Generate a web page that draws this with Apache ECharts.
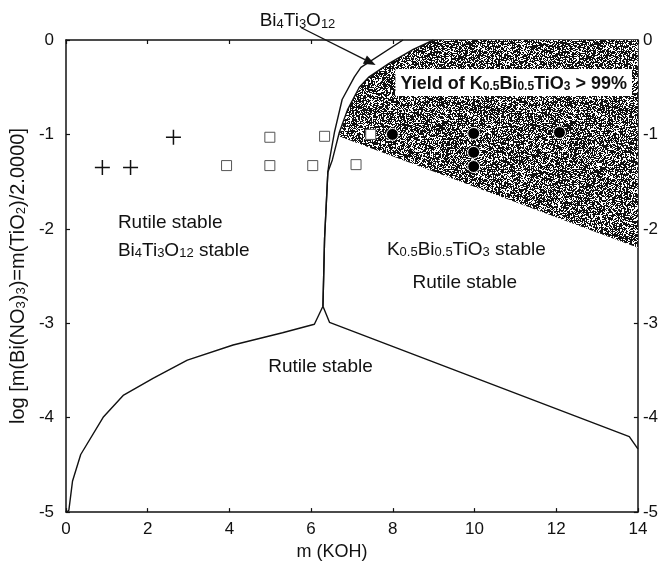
<!DOCTYPE html>
<html>
<head>
<meta charset="utf-8">
<script src="https://cdn.jsdelivr.net/npm/echarts@6/dist/echarts.min.js"></script>
<style>
  html, body { margin: 0; padding: 0; background: #fff; }
  #chart { width: 661px; height: 566px; }
</style>
</head>
<body>
<div id="chart"></div>
<script>
const FONT = 'Liberation Sans, Arial, Helvetica, sans-serif';

// axis ticks
const X_TICKS = [0, 2, 4, 6, 8, 10, 12, 14];
const Y_TICKS = [0, -1, -2, -3, -4, -5];

// lower boundary (rutile stable below)
const lowX = [0.02, 0.07, 0.16, 0.36, 0.92, 1.41, 2.14, 2.97, 4.09, 5.30, 6.08, 6.29, 6.45, 13.79, 14.0];
const lowY = [-5.0, -4.98, -4.67, -4.39, -3.99, -3.76, -3.58, -3.39, -3.23, -3.10, -3.01, -2.82, -2.99, -4.20, -4.33];

// Bi4Ti3O12 band, outer (left) boundary
const outerX = [6.29, 6.33, 6.41, 6.45, 6.57, 6.76, 7.06, 7.22, 8.25];
const outerY = [-2.82, -2.10, -1.40, -1.27, -0.98, -0.63, -0.39, -0.29, 0.0];

// Bi4Ti3O12 band, inner (right) boundary
const innerX = [6.29, 6.33, 6.41, 6.52, 6.69, 6.89, 7.18, 7.42, 7.90, 8.50, 9.00];
const innerY = [-2.82, -2.10, -1.40, -1.27, -0.98, -0.74, -0.50, -0.39, -0.25, -0.10, 0.0];

// shaded region: yield of K0.5Bi0.5TiO3 > 99%
const shadeX = [6.68, 6.89, 7.18, 7.42, 7.90, 8.50, 9.00, 14.0, 14.0];
const shadeY = [-1.02, -0.74, -0.50, -0.39, -0.25, -0.10, 0.0, 0.0, -2.20];

// experiments
const plusPts = [[0.89, -1.35], [1.58, -1.35], [2.63, -1.03]];
const squarePts = [[3.93, -1.33], [4.99, -1.03], [4.99, -1.33], [6.04, -1.33], [6.33, -1.02], [7.10, -1.32], [7.46, -1.00]];
const circlePts = [[7.99, -1.00], [9.98, -0.99], [9.98, -1.19], [9.98, -1.34], [12.08, -0.98]];

// arrow to the Bi4Ti3O12 band
const arrowFrom = [5.76, 0.13];
const arrowTo = [7.58, -0.265];

// text anchors
const noteText = [
  'Rutile stable',
  'Bi{s|4}Ti{s|3}O{s|12} stable',
  'K{s|0.5}Bi{s|0.5}TiO{s|3} stable',
  'Rutile stable',
  'Rutile stable',
  'Bi{s|4}Ti{s|3}O{s|12}'
];
const noteX = [1.27, 1.27, 9.80, 9.76, 6.23, 4.74];
const noteY = [-1.92, -2.22, -2.21, -2.56, -3.45, 0.21];
const noteAlign = ['left', 'left', 'center', 'center', 'center', 'left'];

const yieldText = '{b|Yield of K}{bs|0.5}{b|Bi}{bs|0.5}{b|TiO}{bs|3}{b| > 99%}';
const yieldPos = [10.96, -0.45];

function makeStipple() {
  const c = document.createElement('canvas');
  c.width = 128; c.height = 128;
  const g = c.getContext('2d');
  g.fillStyle = '#fff';
  g.fillRect(0, 0, 128, 128);
  g.fillStyle = '#111';
  let s = 20231;
  for (let y = 0; y < 128; y++) {
    for (let x = 0; x < 128; x++) {
      s = (s * 1103515245 + 12345) & 0x7fffffff;
      if (s / 0x7fffffff < 0.62) g.fillRect(x, y, 1, 1);
    }
  }
  return c;
}
const stipple = makeStipple();

function zip(xs, ys) {
  return xs.map((x, i) => [x, ys[i]]);
}

const richText = {
  n: { fontFamily: FONT, fontSize: 19, color: '#111', verticalAlign: 'bottom', lineHeight: 21 },
  s: { fontFamily: FONT, fontSize: 13, color: '#111', verticalAlign: 'bottom', lineHeight: 15 },
  b: { fontFamily: FONT, fontSize: 18, fontWeight: 'bold', color: '#111', verticalAlign: 'bottom', lineHeight: 21 },
  bs: { fontFamily: FONT, fontSize: 12, fontWeight: 'bold', color: '#111', verticalAlign: 'bottom', lineHeight: 14 }
};

function wrapPlain(t) {
  // put plain runs into the n style so that they share the baseline with subscripts
  return t.replace(/(^|\})([^{}]+)(\{|$)/g, (m, a, body, b) => a + '{n|' + body + '}' + b);
}

const lineStyle = { color: '#111', width: 1.4 };
const axisCommon = {
  type: 'value',
  axisLine: { show: true, onZero: false, lineStyle: { color: '#111', width: 1.5 } },
  axisTick: { show: true, inside: true, length: 4, lineStyle: { color: '#111', width: 1.2 } },
  splitLine: { show: false }
};

const chart = echarts.init(document.getElementById('chart'), null, { renderer: 'canvas' });

chart.setOption({
  animation: false,
  backgroundColor: '#fff',
  grid: { left: 65, right: 20, top: 40, bottom: 50 },
  xAxis: [
    Object.assign({}, axisCommon, {
      position: 'bottom', min: X_TICKS[0], max: X_TICKS[X_TICKS.length - 1], interval: 2,
      axisLabel: { fontFamily: FONT, fontSize: 17, color: '#111', margin: 9 },
      name: 'm (KOH)', nameLocation: 'middle', nameGap: 30,
      nameTextStyle: { fontFamily: FONT, fontSize: 18, color: '#111', padding: [0, 40, 0, 0] }
    }),
    Object.assign({}, axisCommon, {
      position: 'top', min: X_TICKS[0], max: X_TICKS[X_TICKS.length - 1], interval: 2,
      axisLabel: { show: false }
    })
  ],
  yAxis: [
    Object.assign({}, axisCommon, {
      position: 'left', min: Y_TICKS[Y_TICKS.length - 1], max: Y_TICKS[0], interval: 1,
      axisLabel: { fontFamily: FONT, fontSize: 17, color: '#111', margin: 12 },
      name: '{n|log [m(Bi(NO}{s|3}{n|)}{s|3}{n|)=m(TiO}{s|2}{n|)/2.0000]}',
      nameLocation: 'middle', nameGap: 36, nameRotate: 90,
      nameTextStyle: { fontFamily: FONT, fontSize: 20, color: '#111', rich: {
        n: { fontFamily: FONT, fontSize: 20, color: '#111', verticalAlign: 'bottom', lineHeight: 22 },
        s: { fontFamily: FONT, fontSize: 13, color: '#111', verticalAlign: 'bottom', lineHeight: 14 }
      } }
    }),
    Object.assign({}, axisCommon, {
      position: 'right', min: Y_TICKS[Y_TICKS.length - 1], max: Y_TICKS[0], interval: 1,
      axisLabel: { fontFamily: FONT, fontSize: 17, color: '#111', margin: 5 }
    })
  ],
  series: [
    {
      type: 'custom',
      name: 'yield',
      z: 1,
      data: [0],
      renderItem: function (params, api) {
        return {
          type: 'polygon',
          shape: { points: shadeX.map((x, i) => api.coord([x, shadeY[i]])) },
          style: { fill: { image: stipple, repeat: 'repeat' }, stroke: null }
        };
      }
    },
    { type: 'line', name: 'lower', z: 3, data: zip(lowX, lowY), symbol: 'none', lineStyle: lineStyle },
    { type: 'line', name: 'outer', z: 3, data: zip(outerX, outerY), symbol: 'none', lineStyle: lineStyle },
    { type: 'line', name: 'inner', z: 3, data: zip(innerX, innerY), symbol: 'none', lineStyle: lineStyle },
    {
      type: 'custom',
      name: 'arrow',
      z: 4,
      clip: false,
      silent: true,
      data: [0],
      renderItem: function (params, api) {
        const p0 = api.coord(arrowFrom);
        const p1 = api.coord(arrowTo);
        const dx = p1[0] - p0[0], dy = p1[1] - p0[1];
        const len = Math.hypot(dx, dy);
        const ux = dx / len, uy = dy / len;
        const head = 12, half = 4.5;
        const bx = p1[0] - ux * head, by = p1[1] - uy * head;
        return {
          type: 'group',
          children: [
            { type: 'line', shape: { x1: p0[0], y1: p0[1], x2: bx, y2: by }, style: { stroke: '#111', lineWidth: 1.3 } },
            { type: 'polygon', shape: { points: [p1, [bx - uy * half, by + ux * half], [bx + uy * half, by - ux * half]] }, style: { fill: '#111' } }
          ]
        };
      }
    },
    {
      type: 'scatter', name: 'plus', z: 5, data: plusPts, symbolSize: 15,
      symbol: 'path://M0,6.3H14V7.7H0Z M6.3,0H7.7V14H6.3Z',
      itemStyle: { color: '#111', opacity: 1 }
    },
    {
      type: 'scatter', name: 'square', z: 5, data: squarePts, symbol: 'rect', symbolSize: 10,
      itemStyle: { color: '#fff', borderColor: '#555', borderWidth: 1, opacity: 1 }
    },
    {
      type: 'scatter', name: 'circle', z: 5, data: circlePts, symbol: 'circle', symbolSize: 12,
      itemStyle: { color: '#000', borderColor: '#fff', borderWidth: 1, opacity: 1 }
    },
    {
      type: 'scatter', name: 'notes', z: 6, clip: false, symbolSize: 0, silent: true,
      itemStyle: { opacity: 1 },
      data: noteX.map((x, i) => ({
        value: [x, noteY[i]],
        label: { show: true, position: 'inside', align: noteAlign[i], formatter: wrapPlain(noteText[i]), rich: richText }
      }))
    },
    {
      type: 'scatter', name: 'yieldNote', z: 7, symbolSize: 0, silent: true,
      itemStyle: { opacity: 1 },
      data: [{
        value: yieldPos,
        label: {
          show: true, position: 'inside', formatter: yieldText, rich: richText,
          backgroundColor: '#fff', padding: [3, 5, 3, 5]
        }
      }]
    }
  ]
});
</script>
</body>
</html>
